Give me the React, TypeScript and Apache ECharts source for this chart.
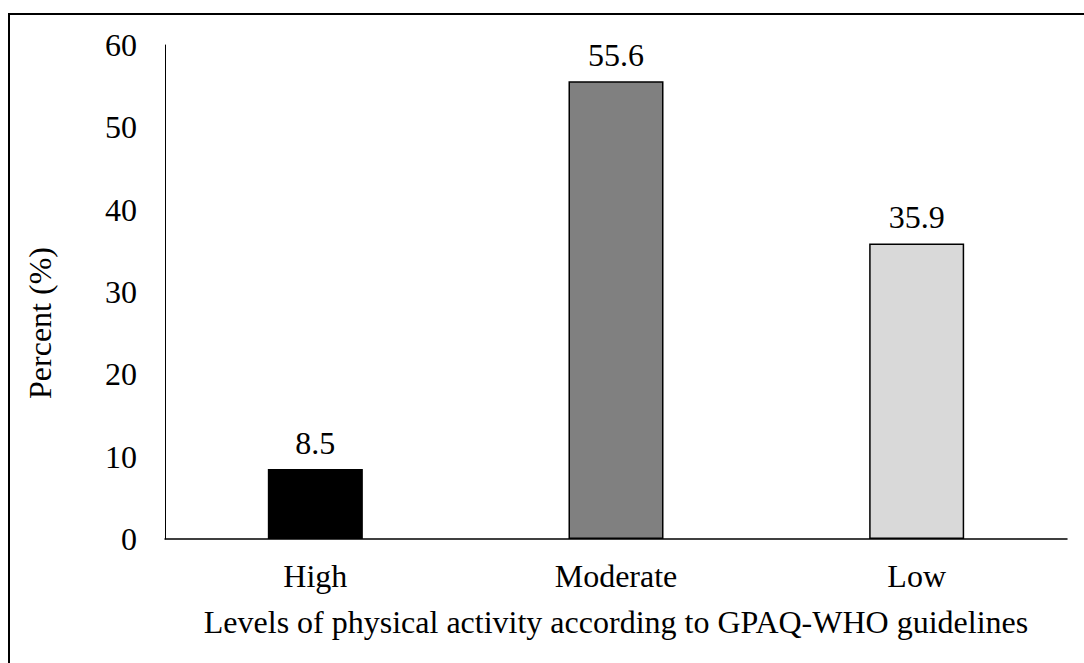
import React, { useEffect, useRef } from "react";
import * as echarts from "echarts";

const categories = ["High", "Moderate", "Low"];
const percentValues = [8.5, 55.6, 35.9];
const barColors = ["#000000", "#808080", "#d9d9d9"];
const yTicks = [0, 10, 20, 30, 40, 50, 60];

const FONT = "Times New Roman, Liberation Serif, serif";
const SIZE = 32;

export default function App() {
  const ref = useRef<HTMLDivElement>(null);

  useEffect(() => {
    if (!ref.current) return;
    const chart = echarts.init(ref.current, null, { renderer: "svg" });
    chart.setOption({
      animation: false,
      backgroundColor: "#ffffff",
      textStyle: { fontFamily: FONT },
      graphic: [
        {
          type: "rect",
          shape: { x: 9, y: 14, width: 1090, height: 670 },
          style: { fill: "none", stroke: "#000000", lineWidth: 2 },
          silent: true,
        },
      ],
      grid: { left: 165, right: 17, top: 45, bottom: 124 },
      xAxis: {
        type: "category",
        data: categories,
        axisLine: { lineStyle: { color: "#000000", width: 1.5 } },
        axisTick: { show: false },
        axisLabel: { color: "#000000", fontFamily: FONT, fontSize: SIZE, margin: 21 },
        name: "Levels of physical activity according to GPAQ-WHO guidelines",
        nameLocation: "middle",
        nameGap: 67,
        nameTextStyle: { color: "#000000", fontFamily: FONT, fontSize: SIZE },
      },
      yAxis: {
        type: "value",
        min: yTicks[0],
        max: yTicks[yTicks.length - 1],
        interval: 10,
        axisLine: { show: true, lineStyle: { color: "#000000", width: 1 } },
        axisTick: { show: false },
        splitLine: { show: false },
        axisLabel: { color: "#000000", fontFamily: FONT, fontSize: SIZE, margin: 28 },
        name: "Percent (%)",
        nameLocation: "middle",
        nameGap: 109,
        nameTextStyle: {
          color: "#000000",
          fontFamily: FONT,
          fontSize: SIZE,
          padding: [0, 62, 0, 0],
        },
      },
      series: [
        {
          type: "bar",
          barWidth: "31.6%",
          data: percentValues.map((v, i) => ({
            value: v,
            itemStyle: { color: barColors[i], borderColor: "#000000", borderWidth: 1.5 },
          })),
          label: {
            show: true,
            position: "top",
            distance: 10,
            color: "#000000",
            fontFamily: FONT,
            fontSize: SIZE,
            formatter: (p: any) => p.value.toFixed(1),
          },
        },
      ],
    });
    return () => chart.dispose();
  }, []);

  return <div ref={ref} style={{ width: 1084, height: 663, position: "absolute", left: 0, top: 0 }} />;
}
